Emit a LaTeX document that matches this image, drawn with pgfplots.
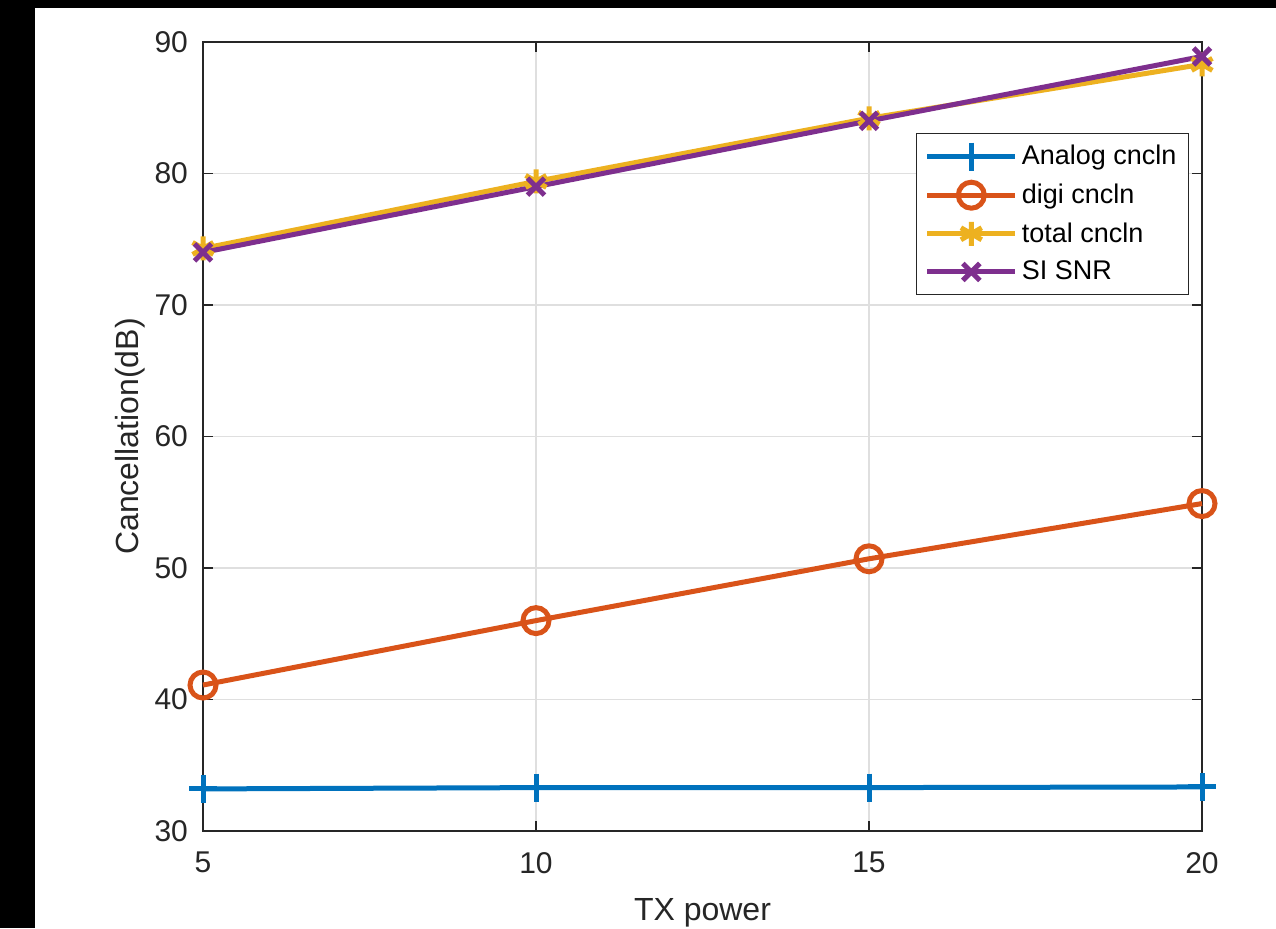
\documentclass[border=0pt]{standalone}
\usepackage{fontspec}
\setmainfont{Liberation Sans}
\usepackage{pgfplots}
\pgfplotsset{compat=1.18}
\definecolor{mblue}{rgb}{0,0.447,0.741}
\definecolor{mred}{rgb}{0.85,0.325,0.098}
\definecolor{myellow}{rgb}{0.929,0.694,0.125}
\definecolor{mpurple}{rgb}{0.494,0.184,0.556}
\definecolor{axgray}{rgb}{0.15,0.15,0.15}
\begin{document}
\begin{tikzpicture}
\fill[black] (0,0) rectangle (17.5pt,464pt);
\fill[black] (0,460pt) rectangle (638pt,464pt);
\fill[white] (17.5pt,0) rectangle (638pt,460pt);
\path[use as bounding box] (0,0) rectangle (638pt,464pt);
\begin{axis}[
  at={(101.5pt,48.5pt)}, anchor=south west,
  scale only axis, width=499.5pt, height=394.5pt,
  xmin=5, xmax=20, ymin=30, ymax=90,
  xtick={5,10,15,20}, ytick={30,40,50,60,70,80,90},
  grid=major, major grid style={draw=gray!25, line width=0.6pt},
  axis line style={draw=axgray, line width=0.7pt},
  tick style={draw=axgray, line width=0.7pt},
  tick align=inside, major tick length=5pt,
  ticklabel style={font=\fontsize{15}{18}\selectfont, text=axgray},
  xticklabel style={yshift=-7pt},
  yticklabel style={xshift=-4pt},
  /pgf/number format/assume math mode=true,
  xlabel={TX power}, ylabel={Cancellation(dB)},
  label style={font=\fontsize{16}{19}\selectfont, text=axgray},
  xlabel style={yshift=-5.5pt},
  ylabel style={yshift=-2pt},
  legend style={at={(0.987,0.885)}, anchor=north east, font=\fontsize{13.5}{16}\selectfont,
    draw=axgray, line width=0.6pt, row sep=4pt, inner sep=4pt},
  legend cell align=left,
  legend image code/.code={
    \draw[mark repeat=2, mark phase=2, line width=2.5pt, #1]
      plot coordinates {(0pt,0pt) (22pt,0pt) (44pt,0pt)};},
  every axis plot/.append style={line width=2.5pt, mark size=7pt},
  clip=false,
]
\addplot[color=mblue, mark=+] coordinates {(5,33.2) (10,33.3) (15,33.3) (20,33.35)};
\addlegendentry{Analog cncln}
\addplot[color=mred, mark=o, mark size=6.5pt] coordinates {(5,41.1) (10,46.0) (15,50.7) (20,54.9)};
\addlegendentry{digi cncln}
\addplot[color=myellow, mark=asterisk, mark size=6pt] coordinates {(5,74.3) (10,79.4) (15,84.2) (20,88.3)};
\addlegendentry{total cncln}
\addplot[color=mpurple, mark=x, mark size=6pt] coordinates {(5,74.0) (10,79.0) (15,84.0) (20,88.9)};
\addlegendentry{SI SNR}
\end{axis}
\end{tikzpicture}
\end{document}
